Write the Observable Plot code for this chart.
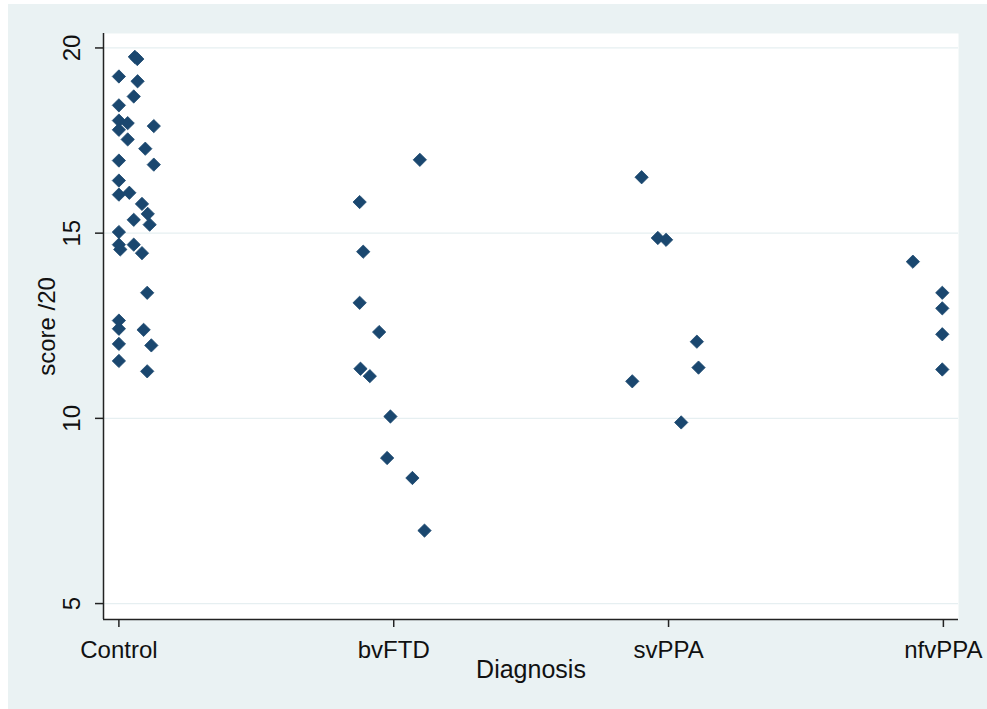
<!DOCTYPE html>
<html><head><meta charset="utf-8">
<script src="https://cdn.jsdelivr.net/npm/d3@7"></script>
<script src="https://cdn.jsdelivr.net/npm/@observablehq/plot@0.6"></script>
<style>
html,body{margin:0;padding:0;background:#fff;}
#bg{position:absolute;left:8px;top:4px;width:979px;height:705px;background:#eaf2f3;}
#chart{position:absolute;left:0;top:0;}
</style></head><body><div id="bg"></div><div id="chart"></div>
<script>
const categories = ["Control", "bvFTD", "svPPA", "nfvPPA"];
const yTicks = [5, 10, 15, 20];
const xDomain = [-0.056, 3.055];
const yDomain = [4.57, 20.39];
const yLabel = "score /20";
const xLabel = "Diagnosis";

// scores per group and the horizontal jitter offset of each point
const controlScores = [19.76,19.70,19.23,19.10,18.69,18.45,18.04,17.97,17.79,17.89,17.53,17.28,16.96,16.85,16.42,16.04,16.09,15.79,15.52,15.36,15.23,15.03,14.69,14.56,14.69,14.46,13.39,12.64,12.42,12.39,12.01,11.97,11.55,11.27];
const controlJitter = [0.058,0.067,0,0.068,0.054,0,0,0.032,0,0.127,0.032,0.096,0,0.127,0,0,0.038,0.084,0.105,0.054,0.112,0,0,0.005,0.054,0.084,0.103,0,0,0.09,0,0.118,0,0.103];
const bvftdScores = [16.98,15.84,14.50,13.12,12.33,11.34,11.14,10.05,8.93,8.39,6.97];
const bvftdJitter = [0.095,-0.124,-0.111,-0.124,-0.053,-0.121,-0.087,-0.012,-0.024,0.068,0.112];
const svppaScores = [16.51,14.87,14.82,12.07,11.37,11.00,9.89];
const svppaJitter = [-0.098,-0.039,-0.009,0.103,0.109,-0.132,0.046];
const nfvppaScores = [14.23,13.39,12.97,12.27,11.32];
const nfvppaJitter = [-0.111,-0.004,-0.004,-0.004,-0.004];

const groups = [
  [controlScores, controlJitter],
  [bvftdScores, bvftdJitter],
  [svppaScores, svppaJitter],
  [nfvppaScores, nfvppaJitter]
];
const points = groups.flatMap(([s, j], gi) => s.map((v, k) => ({x: gi + j[k], y: v, group: categories[gi]})));

const chart = Plot.plot({
  width: 987, height: 709,
  marginLeft: 103, marginRight: 29, marginTop: 33, marginBottom: 90,
  style: {background: "transparent", fontFamily: "'Liberation Sans', Arial, sans-serif", color: "#111"},
  x: {domain: xDomain, axis: null},
  y: {domain: yDomain, axis: null},
  marks: [
    Plot.frame({fill: "white", stroke: null}),
    Plot.ruleY(yTicks, {stroke: "#e6eff1", strokeWidth: 1.3}),
    Plot.ruleX([xDomain[0]], {stroke: "#222", strokeWidth: 1.5}),
    Plot.ruleY([yDomain[0]], {stroke: "#222", strokeWidth: 1.5}),
    Plot.axisY({ticks: yTicks, tickSize: 8, tickFormat: () => "", stroke: "#222", strokeWidth: 1.5, label: null}),
    Plot.axisX({ticks: [0, 1, 2, 3], tickSize: 8, tickPadding: 13, tickFormat: i => categories[i], fontSize: 24, stroke: "#222", strokeWidth: 1.5, fill: "#111", label: null}),
    Plot.text(yTicks, {x: () => xDomain[0], y: d => d, text: d => String(d), rotate: -90, dx: -31, fontSize: 24, textAnchor: "middle", lineAnchor: "middle", fill: "#111"}),
    Plot.text([yLabel], {frameAnchor: "left", text: d => d, rotate: -90, dx: -56, fontSize: 24, textAnchor: "middle", lineAnchor: "middle", fill: "#111"}),
    Plot.text([xLabel], {frameAnchor: "bottom", text: d => d, dy: 50, fontSize: 25, textAnchor: "middle", lineAnchor: "middle", fill: "#111"}),
    Plot.dot(points, {x: "x", y: "y", symbol: "diamond2", r: 6, fill: "#1a476f", stroke: "#1a476f", strokeWidth: 0.8, strokeLinejoin: "round"})
  ]
});
document.getElementById("chart").appendChild(chart);
</script></body></html>
